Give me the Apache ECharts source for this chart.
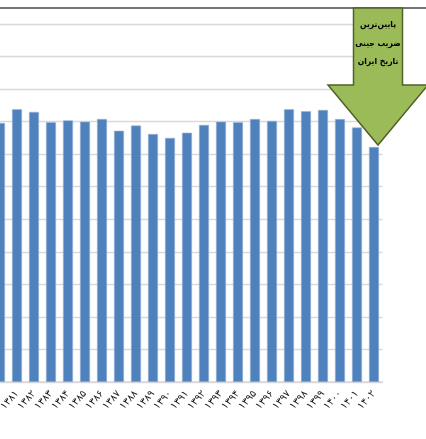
<!DOCTYPE html>
<html>
<head>
<meta charset="utf-8">
<script src="https://cdn.jsdelivr.net/npm/echarts@6/dist/echarts.min.js"></script>
<style>
html,body{margin:0;padding:0;background:#fff;}
#main{width:426px;height:439px;}
</style>
</head>
<body>
<div id="main"></div>
<script type="text/javascript">
// سال ها (۱۳۸۰ تا ۱۴۰۲) و ضریب جینی
var years = ['۱۳۸۰','۱۳۸۱','۱۳۸۲','۱۳۸۳','۱۳۸۴','۱۳۸۵','۱۳۸۶','۱۳۸۷','۱۳۸۸','۱۳۸۹','۱۳۹۰','۱۳۹۱',
             '۱۳۹۲','۱۳۹۳','۱۳۹۴','۱۳۹۵','۱۳۹۶','۱۳۹۷','۱۳۹۸','۱۳۹۹','۱۴۰۰','۱۴۰۱','۱۴۰۲'];
var gini = [0.398,0.419,0.415,0.399,0.402,0.400,0.404,0.386,0.394,0.381,0.375,0.383,
            0.395,0.400,0.399,0.404,0.401,0.419,0.416,0.418,0.404,0.391,0.361];
var noteLines = ['پایین‌ترین','ضریب جینی','تاریخ ایران'];

var chart = echarts.init(document.getElementById('main'));
var option = {
    animation: false,
    grid: {left: -8.5, right: 43.5, top: 24, bottom: 57, outerBoundsMode: 'none', containLabel: false},
    xAxis: {
        type: 'category',
        data: years,
        axisLine: {lineStyle: {color: '#d9d9d9', width: 1.5}},
        axisTick: {show: false},
        axisLabel: {rotate: 48, interval: 0, margin: 10, fontSize: 10,
                    color: '#1a1a1a', fontFamily: 'DejaVu Sans'}
    },
    yAxis: {
        type: 'value',
        min: 0, max: 0.55, interval: 0.05,
        axisLabel: {show: false},
        axisLine: {show: false},
        axisTick: {show: false},
        splitLine: {lineStyle: {color: '#d9d9d9', width: 1.3}}
    },
    series: [{
        type: 'bar',
        data: gini,
        barWidth: 10,
        itemStyle: {color: '#4f81bd', borderColor: '#9bb5dc', borderWidth: 0.6}
    }]
};
chart.setOption(option);

// فلش پایین روی آخرین ستون
var last = years.length - 1;
var tip = chart.convertToPixel({seriesIndex: 0}, [last, gini[last]]);
var cx = tip[0] + 4;
var tipY = tip[1] - 2;
var arrow = [[cx - 24.5, 8], [cx + 24.5, 8], [cx + 24.5, 85], [cx + 50, 85],
             [cx, tipY], [cx - 50, 85], [cx - 24.5, 85]];
var graphics = [
    {type: 'line', shape: {x1: 0, y1: 8, x2: 426, y2: 8},
     style: {stroke: '#767676', lineWidth: 2}, z: 10},
    {type: 'polygon', shape: {points: arrow},
     style: {fill: '#9bbb59', stroke: '#4f6228', lineWidth: 1.5}, z: 11}
];
noteLines.forEach(function (t, i) {
    graphics.push({type: 'text', x: cx, y: 25 + i * 18.5, z: 12,
        style: {text: t, fill: '#000', font: 'bold 8.5px "DejaVu Sans Condensed", "DejaVu Sans"',
                align: 'center', verticalAlign: 'middle'}});
});
chart.setOption({graphic: graphics});
</script>
</body>
</html>
